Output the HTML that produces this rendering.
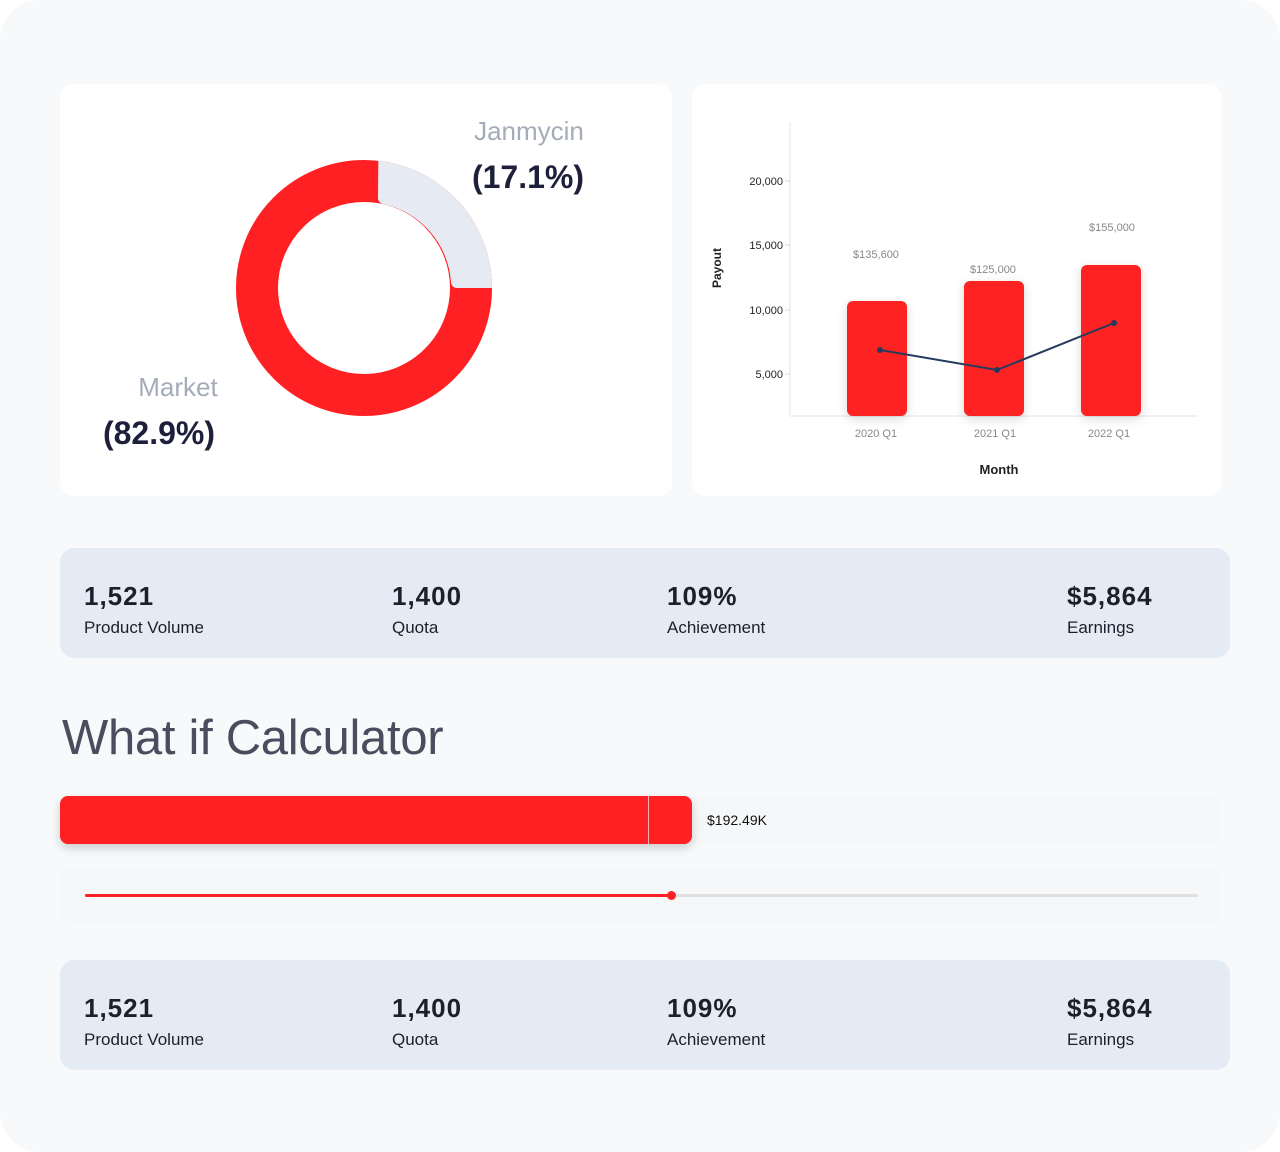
<!DOCTYPE html>
<html><head><style>
body{margin:0;width:1280px;height:1152px;background:#fff;font-family:"Liberation Sans",sans-serif;}
.page{position:absolute;left:0;top:0;width:1280px;height:1152px;background:#f7f9fb;border-radius:40px;}
.card{position:absolute;background:#fff;border-radius:14px;}
.stats{position:absolute;left:60px;width:1170px;height:110px;background:#e5ebf4;border-radius:14px;}
.stat{position:absolute;top:33px;}
.stat b{display:block;font-size:26px;color:#1d1f2b;letter-spacing:1px}
.stat span{display:block;font-size:17px;color:#1d1f2b;margin-top:6px}
</style></head><body><div class="page">
<div class="card" style="left:60px;top:84px;width:612px;height:412px"></div>
<div class="card" style="left:692px;top:84px;width:530px;height:412px"></div>
<svg width="1280" height="520" style="position:absolute;left:0;top:0">
<defs><filter id="sh" x="-30%" y="-30%" width="160%" height="160%"><feDropShadow dx="0" dy="3" stdDeviation="5" flood-color="#000" flood-opacity="0.15"/></filter></defs>
<circle cx="364" cy="288" r="107" fill="none" stroke="#ff2024" stroke-width="42"/>
<path d="M378.3,160.8 A128,128 0 0 1 492,288 L457,288 A6,6 0 0 1 451,282 A86,86 0 0 0 383,204 A6,6 0 0 1 378,198 Z" fill="#e5eaf3"/>
<text x="529" y="140" font-size="26" fill="#a4acb9" text-anchor="middle">Janmycin</text>
<text x="528" y="188" font-size="32" font-weight="bold" fill="#1d1f3b" text-anchor="middle">(17.1%)</text>
<text x="178" y="396" font-size="26" fill="#a4acb9" text-anchor="middle">Market</text>
<text x="159" y="444" font-size="32" font-weight="bold" fill="#1d1f3b" text-anchor="middle">(82.9%)</text>
<line x1="790" y1="122" x2="790" y2="416" stroke="#e3e3e3"/>
<line x1="790" y1="416" x2="1198" y2="416" stroke="#e3e3e3"/>
<g font-size="11" fill="#222" text-anchor="end">
<text x="783" y="185">20,000</text><text x="783" y="249">15,000</text><text x="783" y="314">10,000</text><text x="783" y="378">5,000</text></g>
<g stroke="#ddd"><line x1="785" y1="181" x2="790" y2="181"/><line x1="785" y1="245" x2="790" y2="245"/><line x1="785" y1="310" x2="790" y2="310"/><line x1="785" y1="374" x2="790" y2="374"/></g>
<text transform="translate(721,268) rotate(-90)" font-size="12" font-weight="bold" fill="#222" text-anchor="middle">Payout</text>
<g fill="#ff2024" filter="url(#sh)">
<rect x="847" y="301" width="60" height="115" rx="6"/><rect x="964" y="281" width="60" height="135" rx="6"/><rect x="1081" y="265" width="60" height="151" rx="6"/></g>
<g font-size="11" fill="#888" text-anchor="middle">
<text x="876" y="258">$135,600</text><text x="993" y="273">$125,000</text><text x="1112" y="231">$155,000</text>
<text x="876" y="437">2020 Q1</text><text x="995" y="437">2021 Q1</text><text x="1109" y="437">2022 Q1</text></g>
<polyline points="880,350 997,370 1114,323" fill="none" stroke="#253a5e" stroke-width="2"/>
<g fill="#253a5e"><circle cx="880" cy="350" r="3"/><circle cx="997" cy="370" r="3"/><circle cx="1114" cy="323" r="3"/></g>
<text x="999" y="474" font-size="13" font-weight="bold" fill="#222" text-anchor="middle">Month</text>
</svg>
<div class="stats" style="top:548px">
<div class="stat" style="left:24px"><b>1,521</b><span>Product Volume</span></div>
<div class="stat" style="left:332px"><b>1,400</b><span>Quota</span></div>
<div class="stat" style="left:607px"><b>109%</b><span>Achievement</span></div>
<div class="stat" style="left:1007px"><b>$5,864</b><span>Earnings</span></div>
</div>
<div style="position:absolute;left:62px;top:710px;font-size:49px;color:#4a4d5e;letter-spacing:-0.3px">What if Calculator</div>
<div style="position:absolute;left:60px;top:796px;width:1162px;height:48px;background:#f4f5f6;border-radius:8px;opacity:.6"></div>
<div style="position:absolute;left:60px;top:796px;width:632px;height:48px;background:#ff2024;border-radius:8px;box-shadow:0 4px 10px rgba(0,0,0,.18)"></div>
<div style="position:absolute;left:648px;top:796px;width:1px;height:48px;background:#ffb0b0"></div>
<div style="position:absolute;left:707px;top:812px;font-size:14px;color:#111">$192.49K</div>
<div style="position:absolute;left:60px;top:868px;width:1162px;height:54px;background:#f4f5f6;border-radius:8px;opacity:.6"></div>
<div style="position:absolute;left:85px;top:894px;width:1113px;height:3px;background:#e0e0e0;border-radius:2px"></div>
<div style="position:absolute;left:85px;top:894px;width:586px;height:3px;background:#ff2024;border-radius:2px"></div>
<div style="position:absolute;left:667px;top:891px;width:9px;height:9px;background:#ff2024;border-radius:50%"></div>
<div class="stats" style="top:960px">
<div class="stat" style="left:24px"><b>1,521</b><span>Product Volume</span></div>
<div class="stat" style="left:332px"><b>1,400</b><span>Quota</span></div>
<div class="stat" style="left:607px"><b>109%</b><span>Achievement</span></div>
<div class="stat" style="left:1007px"><b>$5,864</b><span>Earnings</span></div>
</div>
</div></body></html>
